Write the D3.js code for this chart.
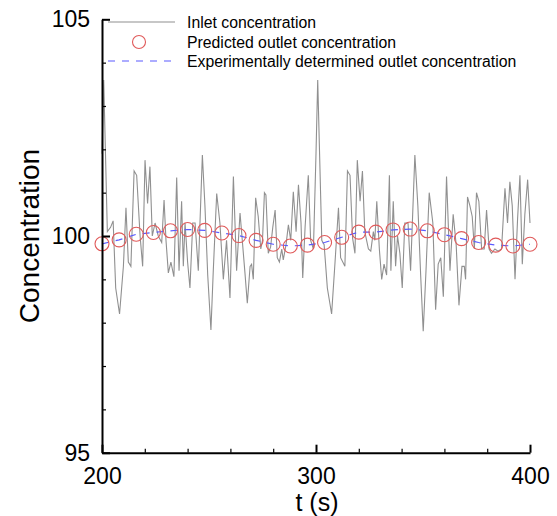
<!DOCTYPE html>
<html>
<head>
<meta charset="utf-8">
<script src="https://cdn.jsdelivr.net/npm/d3@7"></script>
<style>
  body { margin: 0; background: #fff; }
  svg { display: block; font-family: "Liberation Sans", Arial, sans-serif; }
</style>
</head>
<body>
<svg id="chart" width="557" height="516"></svg>
<script>
// ---- data ----
const inletT = [
  200.0,200.8,202.5,204.0,205.2,206.4,208.2,210.0,211.2,212.3,213.5,215.0,216.2,217.8,219.0,220.1,221.3,222.4,223.5,224.8,
  226.3,227.9,229.0,229.9,231.0,232.2,233.6,234.9,236.0,237.2,238.0,238.8,240.0,241.1,242.4,243.5,245.0,246.9,248.1,249.4,
  250.9,252.0,253.6,255.1,256.7,258.2,259.8,261.4,262.9,264.5,266.8,267.9,269.2,269.9,270.7,271.8,273.0,274.2,275.0,275.9,
  276.6,277.7,278.8,279.8,280.9,281.9,282.9,284.0,284.7,286.0,287.1,288.2,289.4,290.7,291.8,293.0,293.8,294.9,296.4,297.5,
  298.8,300.0,300.8,302.7,303.8,305.3,307.3,308.9,310.5,311.5,313.5,314.7,315.9,317.1,318.2,319.3,320.6,321.7,322.8,324.5,
  325.6,326.8,327.5,328.4,329.6,330.7,331.8,333.0,334.3,335.0,336.1,337.2,338.1,339.2,340.3,341.5,343.0,344.2,346.2,347.6,
  348.9,350.1,351.4,352.9,354.6,355.9,357.1,358.3,359.5,361.0,362.6,364.1,365.5,366.8,368.2,369.3,369.9,370.8,371.9,373.0,
  374.0,375.0,376.1,377.4,378.6,379.7,380.9,382.0,383.6,385.1,386.7,388.3,389.5,390.6,391.7,393.0,394.2,395.3,396.4,397.6,
  398.9,400.0
];
const inletC = [
  101.9,103.6,100.1,100.2,100.35,98.8,98.2,99.3,100.65,99.4,99.3,101.5,101.4,100.0,99.3,101.75,100.75,101.6,100.0,100.3,
  100.0,99.85,100.83,99.9,99.15,99.4,99.06,101.35,99.2,100.8,99.3,100.3,99.4,98.8,100.3,100.3,99.2,101.87,100.7,99.1,
  97.83,99.2,100.98,100.3,99.0,99.9,98.57,101.37,99.2,100.53,99.15,98.45,99.3,99.35,99.0,100.88,100.45,99.7,99.9,101.0,
  100.95,99.6,99.75,100.2,100.6,99.5,99.4,99.7,99.45,99.8,100.26,99.9,101.02,100.1,101.18,100.3,99.03,100.2,101.4,99.9,
  99.7,101.9,103.6,99.9,99.8,98.8,98.2,99.4,100.65,99.5,99.3,101.5,101.4,99.95,99.6,101.75,100.8,101.5,100.1,99.7,
  99.65,100.1,99.9,100.8,99.7,99.0,99.35,99.1,101.4,99.2,100.8,99.3,100.0,99.6,98.8,100.3,100.3,99.2,101.87,100.7,
  99.1,97.8,99.2,101.0,100.3,98.3,99.35,99.5,98.6,101.37,99.2,100.5,99.8,98.4,99.3,99.3,99.0,100.9,100.7,100.45,
  99.7,101.0,100.8,99.7,99.7,100.6,99.7,99.6,99.7,99.65,99.7,101.1,100.3,101.25,100.7,99.0,100.4,101.4,99.35,100.5,
  101.3,100.3
];
const outletT = [200,208,216,224,232,240,248,256,264,272,280,288,296,304,312,320,328,336,344,352,360,368,376,384,392,400];
const predictedC = [99.82,99.91,100.04,100.08,100.12,100.15,100.13,100.07,100.01,99.90,99.81,99.77,99.79,99.85,99.97,100.09,100.09,100.14,100.16,100.12,100.03,99.94,99.85,99.79,99.77,99.81];
const experimentalC = [99.82,99.91,100.04,100.08,100.12,100.15,100.13,100.07,100.01,99.90,99.81,99.77,99.79,99.85,99.97,100.09,100.09,100.14,100.16,100.12,100.03,99.94,99.85,99.79,99.77,99.81];
const xMajorTicks = [200, 300, 400];
const xMinorTicks = [220, 240, 260, 280, 320, 340, 360, 380];
const yMajorTicks = [95, 100, 105];
const yMinorTicks = [96, 97, 98, 99, 101, 102, 103, 104];
const legendLabels = ["Inlet concentration", "Predicted outlet concentration", "Experimentally determined outlet concentration"];

// ---- drawing ----
const svg = d3.select("#chart");
const x = d3.scaleLinear().domain([200, 400]).range([102, 530]);
const y = d3.scaleLinear().domain([95, 105]).range([452.7, 19.3]);

const gray = "#909090", red = "#e05a5a", blue = "#5a5aff";

// inlet line
const inlet = inletT.map((t, i) => [t, inletC[i]]);
svg.append("path")
  .datum(inlet)
  .attr("fill", "none")
  .attr("stroke", gray)
  .attr("stroke-width", 1.1)
  .attr("d", d3.line().x(d => x(d[0])).y(d => y(d[1])));

// experimental dashed line
const exper = outletT.map((t, i) => [t, experimentalC[i]]);
svg.append("path")
  .datum(exper)
  .attr("fill", "none")
  .attr("stroke", blue)
  .attr("stroke-width", 1.2)
  .attr("stroke-dasharray", "7,7")
  .attr("d", d3.line().x(d => x(d[0])).y(d => y(d[1])));

// predicted circles
svg.append("g").selectAll("circle")
  .data(outletT.map((t, i) => [t, predictedC[i]]))
  .join("circle")
  .attr("cx", d => x(d[0]))
  .attr("cy", d => y(d[1]))
  .attr("r", 7)
  .attr("fill", "none")
  .attr("stroke", red)
  .attr("stroke-width", 1.1);

// axes (ticks pointing inward)
const fontTick = 23;
const xAxisMajor = d3.axisBottom(x).tickValues(xMajorTicks).tickSizeInner(-8).tickSizeOuter(0).tickPadding(15).tickFormat(d3.format("d"));
const gx = svg.append("g").attr("transform", `translate(0,${y(95)})`).call(xAxisMajor);
gx.select(".domain").attr("stroke", "#000").attr("stroke-width", 2);
gx.selectAll(".tick line").attr("stroke", "#000").attr("stroke-width", 2);
gx.selectAll("text").attr("font-size", fontTick).attr("fill", "#000").attr("font-family", "Liberation Sans, Arial, sans-serif");
const gxm = svg.append("g").attr("transform", `translate(0,${y(95)})`)
  .call(d3.axisBottom(x).tickValues(xMinorTicks).tickSizeInner(-4).tickSizeOuter(0).tickFormat(""));
gxm.select(".domain").remove();
gxm.selectAll(".tick line").attr("stroke", "#000").attr("stroke-width", 1.2);

const yAxisMajor = d3.axisLeft(y).tickValues(yMajorTicks).tickSizeInner(-8).tickSizeOuter(0).tickPadding(12).tickFormat(d3.format("d"));
const gy = svg.append("g").attr("transform", `translate(${x(200)},0)`).call(yAxisMajor);
gy.select(".domain").attr("stroke", "#000").attr("stroke-width", 2);
gy.selectAll(".tick line").attr("stroke", "#000").attr("stroke-width", 2);
gy.selectAll("text").attr("font-size", fontTick).attr("fill", "#000").attr("font-family", "Liberation Sans, Arial, sans-serif");
const gym = svg.append("g").attr("transform", `translate(${x(200)},0)`)
  .call(d3.axisLeft(y).tickValues(yMinorTicks).tickSizeInner(-4).tickSizeOuter(0).tickFormat(""));
gym.select(".domain").remove();
gym.selectAll(".tick line").attr("stroke", "#000").attr("stroke-width", 1.2);

// axis titles
svg.append("text")
  .attr("x", (x(200) + x(400)) / 2 + 1)
  .attr("y", 511)
  .attr("text-anchor", "middle")
  .attr("font-size", 25)
  .text("t (s)");
svg.append("text")
  .attr("transform", `translate(39,${y(100)}) rotate(-90)`)
  .attr("text-anchor", "middle")
  .attr("font-size", 28)
  .text("Concentration");

// legend
const lg = svg.append("g");
const rowY = [22, 42, 61];
lg.append("line").attr("x1", 108).attr("x2", 175).attr("y1", rowY[0]).attr("y2", rowY[0])
  .attr("stroke", gray).attr("stroke-width", 1.1);
lg.append("circle").attr("cx", 139).attr("cy", rowY[1]).attr("r", 6.5)
  .attr("fill", "none").attr("stroke", red).attr("stroke-width", 1.1);
lg.append("line").attr("x1", 108).attr("x2", 175).attr("y1", rowY[2]).attr("y2", rowY[2])
  .attr("stroke", blue).attr("stroke-width", 1.2).attr("stroke-dasharray", "7,7");
lg.selectAll("text.leg").data(legendLabels).join("text")
  .attr("class", "leg")
  .attr("x", 187)
  .attr("y", (d, i) => rowY[i])
  .attr("dy", "0.35em")
  .attr("font-size", 15.8)
  .text(d => d);
</script>
</body>
</html>
